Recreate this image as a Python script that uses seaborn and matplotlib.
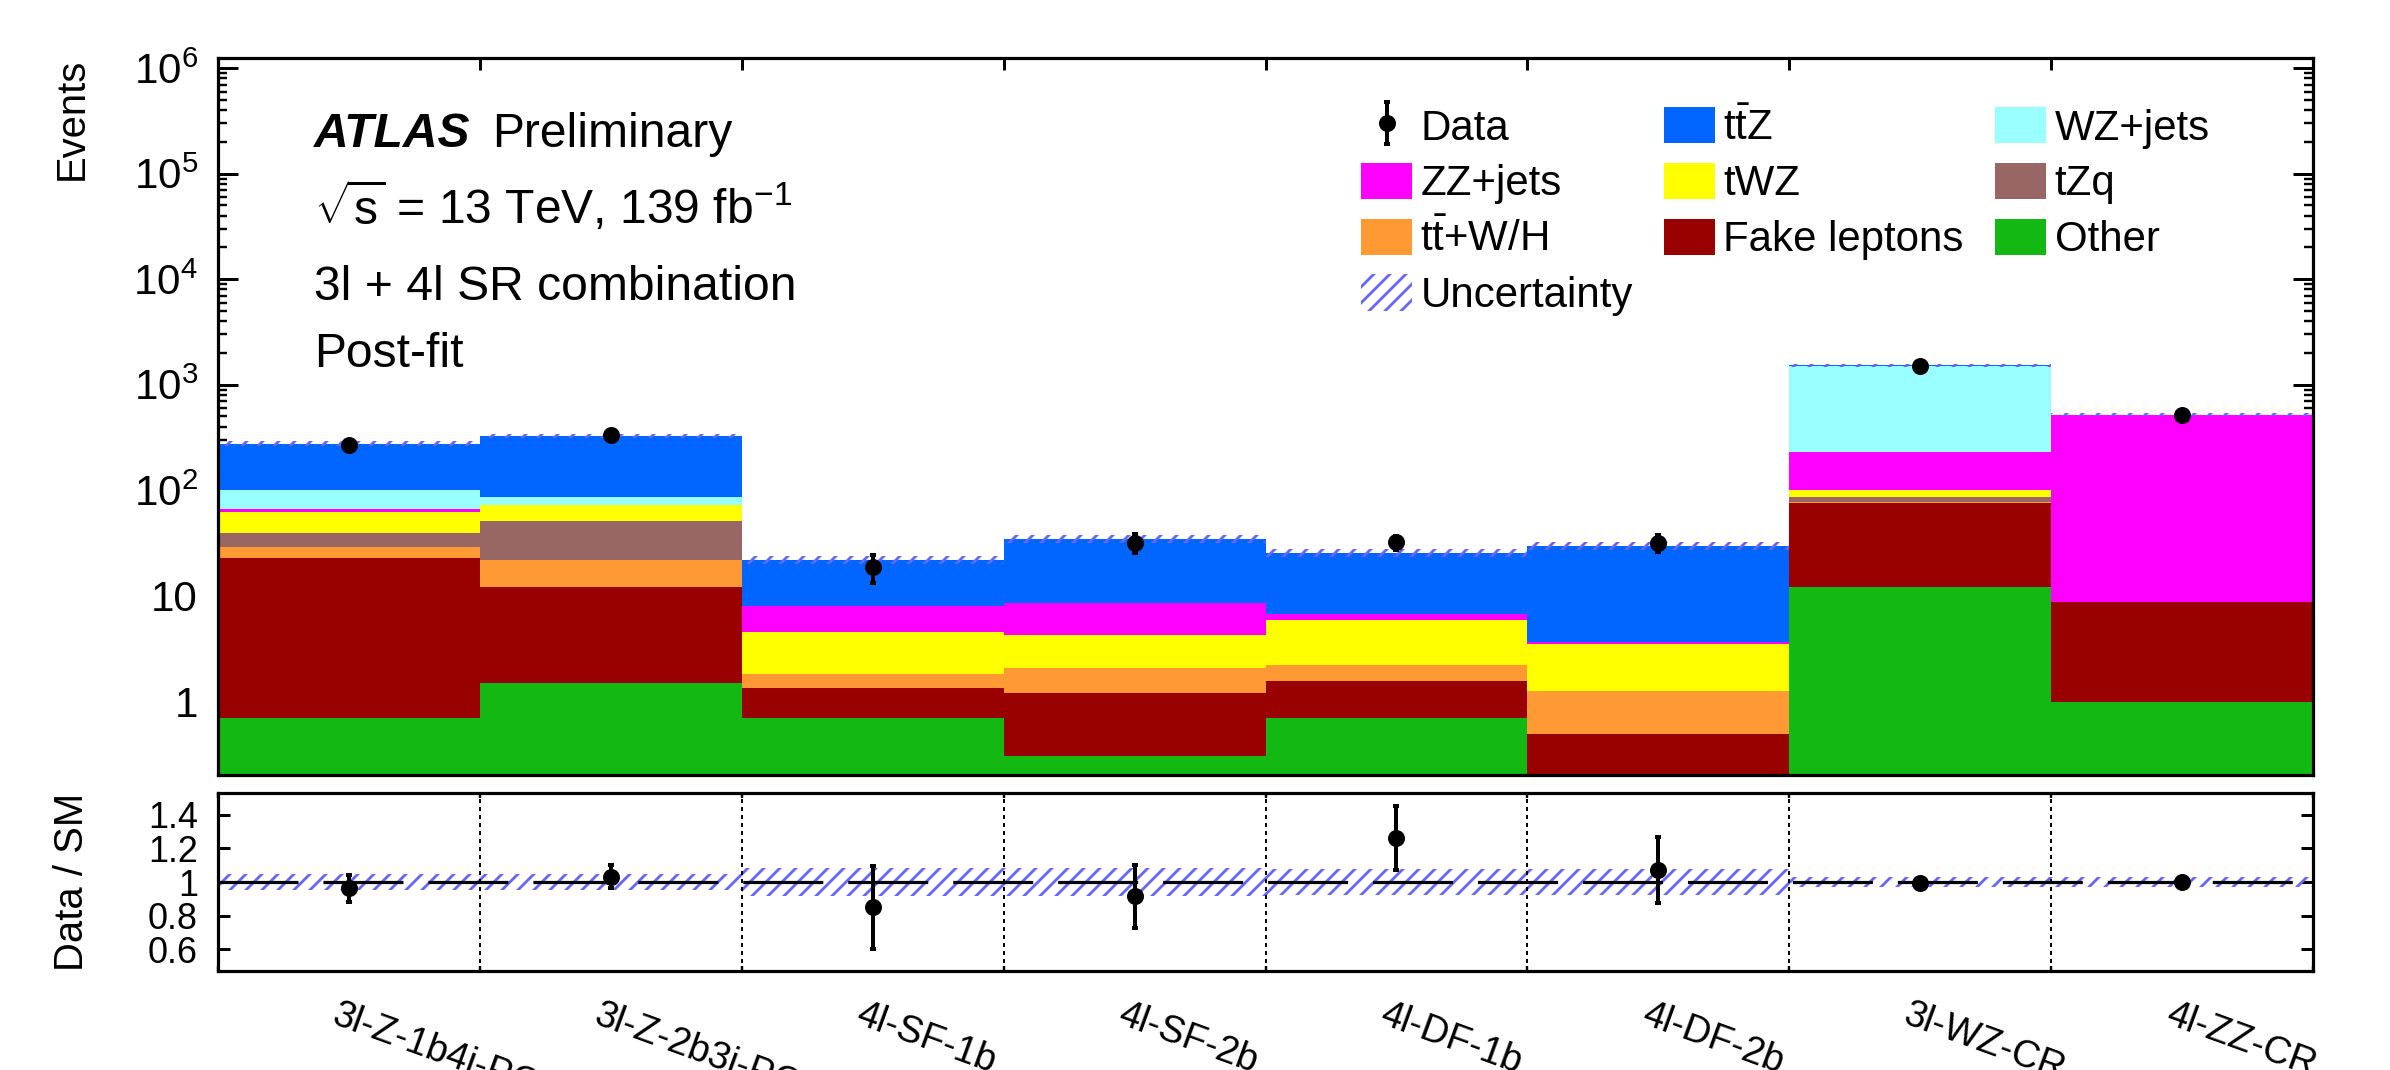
import numpy as np
import pandas as pd
import matplotlib
matplotlib.use("Agg")
import matplotlib.pyplot as plt
from matplotlib.patches import Patch
from matplotlib.ticker import LogLocator, NullFormatter
from matplotlib.transforms import ScaledTranslation
import seaborn as sns

# regions (bins)
regions = ["3l-Z-1b4j-PCBT", "3l-Z-2b3j-PCBT", "4l-SF-1b", "4l-SF-2b",
           "4l-DF-1b", "4l-DF-2b", "3l-WZ-CR", "4l-ZZ-CR"]

# post-fit yields per process
ttz = [177, 240, 14.1, 26.1, 18.8, 26.0, 5, 0]
wz = [32.8, 12.7, 0, 0, 0, 0, 1289, 0]
zz = [4.7, 1.0, 3.44, 4.38, 0.88, 0.1, 131, 513]
twz = [22.8, 21.1, 2.69, 2.18, 3.7, 2.28, 14.1, 0.1]
tzq = [10.6, 28.7, 0, 0, 0, 0, 7.7, 0]
ttwh = [6.1, 9.9, 0.47, 0.86, 0.64, 0.75, 1.6, 0]
fake = [21.9, 10.6, 0.65, 0.89, 0.86, 0.39, 64, 7.7]
other = [0.69, 1.48, 0.69, 0.30, 0.69, 0.10, 12.2, 0.985]

data = [266, 336, 18.7, 31.8, 32.3, 31.8, 1520, 522]
data_err = [22, 22, 5.4, 6.5, 4.9, 5.8, 39, 16]
sm_unc = [0.048, 0.048, 0.083, 0.083, 0.08, 0.08, 0.03, 0.03]

# top of the stack first
processes = ["ttZ", "WZ+jets", "ZZ+jets", "tWZ", "tZq", "ttW/H", "Fake leptons", "Other"]
yields = [ttz, wz, zz, twz, tzq, ttwh, fake, other]
colors = {"ttZ": "#0066ff", "WZ+jets": "#99ffff", "ZZ+jets": "#ff00ff",
          "tWZ": "#ffff00", "tZq": "#996666", "ttW/H": "#ff9933",
          "Fake leptons": "#990000", "Other": "#13b813"}
labels = {"ttZ": r"t$\bar{\mathrm{t}}$Z", "ttW/H": r"t$\bar{\mathrm{t}}$+W/H"}
unc_color = "#6666ff"

sns.set_style("ticks")
plt.rcParams["font.family"] = ["Liberation Sans", "DejaVu Sans"]
plt.rcParams["mathtext.fontset"] = "custom"
plt.rcParams["mathtext.rm"] = "Liberation Sans"
plt.rcParams["mathtext.it"] = "Liberation Sans:italic"
plt.rcParams["mathtext.bf"] = "Liberation Sans:bold"
plt.rcParams["hatch.linewidth"] = 1.4
for key in ["axes.edgecolor", "xtick.color", "ytick.color", "text.color", "axes.labelcolor"]:
    plt.rcParams[key] = "black"

edges = np.arange(len(regions) + 1)
centers = edges[:-1] + 0.5

rows = []
for proc, vals in zip(processes, yields):
    for c, v in zip(centers, vals):
        rows.append({"bin": c, "events": v, "process": proc})
df = pd.DataFrame(rows)

total = np.sum(np.array(yields), axis=0)
data = np.array(data)
data_err = np.array(data_err)
sm_unc = np.array(sm_unc)

fig = plt.figure(figsize=(2390 / 144, 1070 / 144), dpi=144)
ax = fig.add_axes([0.0912, 0.2757, 0.8766, 0.6701])
axr = fig.add_axes([0.0912, 0.0925, 0.8766, 0.1664])

sns.histplot(data=df, x="bin", weights="events", hue="process", hue_order=processes,
             palette=colors, multiple="stack", bins=[float(e) for e in edges],
             element="bars", alpha=1, linewidth=0, edgecolor="none", legend=False, ax=ax)
ax.set_yscale("log")

lo = total * (1 - sm_unc)
hi = total * (1 + sm_unc)
ax.fill_between(edges, np.append(lo, lo[-1]), np.append(hi, hi[-1]), step="post",
                facecolor="none", edgecolor=unc_color, hatch="///", linewidth=0)
data_h = ax.errorbar(centers, data, yerr=data_err, fmt="o", color="black", ms=7.5,
                     elinewidth=2, capsize=1.5, capthick=2)

ax.set_xlim(0, len(regions))
ax.set_ylim(0.2, 1.25e6)
ax.set_xlabel("")
ax.set_ylabel("Events", loc="top", fontsize=20)
ax.yaxis.set_label_coords(-0.0608, 1.0)
ax.set_yticks([1, 10, 1e2, 1e3, 1e4, 1e5, 1e6],
              ["1", "10", r"$10^{2}$", r"$10^{3}$", r"$10^{4}$", r"$10^{5}$", r"$10^{6}$"])
ax.yaxis.set_minor_locator(LogLocator(base=10, subs=np.arange(2, 10), numticks=30))
ax.yaxis.set_minor_formatter(NullFormatter())
ax.set_xticks(edges, [""] * len(edges))
ax.tick_params(axis="y", which="major", direction="in", left=True, right=True,
               length=10, width=1.5, labelsize=21, pad=10)
ax.tick_params(axis="y", which="minor", direction="in", left=True, right=True,
               length=4.5, width=1.2)
ax.tick_params(axis="x", which="major", direction="in", top=True, bottom=True,
               length=6, width=1.5)
for s in ax.spines.values():
    s.set_linewidth(1.6)

# labels
ax.text(0.0458, 0.876, "ATLAS", transform=ax.transAxes, fontsize=24,
        fontweight="bold", fontstyle="italic", va="baseline")
ax.text(0.131, 0.876, "Preliminary", transform=ax.transAxes, fontsize=24, va="baseline")
ax.text(0.0458, 0.768, r"$\sqrt{\mathrm{s}}$ = 13 TeV, 139 fb$^{-1}$",
        transform=ax.transAxes, fontsize=24, va="baseline")
ax.text(0.0458, 0.6625, "3l + 4l SR combination", transform=ax.transAxes,
        fontsize=24, va="baseline")
ax.text(0.0458, 0.569, "Post-fit", transform=ax.transAxes, fontsize=24, va="baseline")

# legend, filled column by column
patches = {p: Patch(facecolor=colors[p], edgecolor="none", label=labels.get(p, p))
           for p in processes}
unc_h = Patch(facecolor="none", edgecolor=unc_color, hatch="///", linewidth=0,
              label="Uncertainty")
handles = [data_h, patches["ZZ+jets"], patches["ttW/H"], unc_h,
           patches["ttZ"], patches["tWZ"], patches["Fake leptons"],
           patches["WZ+jets"], patches["tZq"], patches["Other"]]
names = ["Data", "ZZ+jets", labels["ttW/H"], "Uncertainty",
         labels["ttZ"], "tWZ", "Fake leptons", "WZ+jets", "tZq", "Other"]
fig.legend(handles, names, loc="upper left", bbox_to_anchor=(0.5695, 0.900),
           ncol=3, frameon=False, fontsize=21, borderpad=0, borderaxespad=0,
           handlelength=1.21, handleheight=0.95, handletextpad=0.2,
           columnspacing=0.75, labelspacing=0.34)

# ratio panel
ratio = data / total
ratio_err = data_err / total
axr.fill_between(edges, np.append(1 - sm_unc, 1 - sm_unc[-1]),
                 np.append(1 + sm_unc, 1 + sm_unc[-1]), step="post",
                 facecolor="none", edgecolor=unc_color, hatch="///", linewidth=0)
axr.axhline(1, color="black", lw=1.6, dashes=(25, 7.8))
for e in edges[1:-1]:
    axr.axvline(e, color="black", lw=1, linestyle=(0, (2, 2)))
axr.errorbar(centers, ratio, yerr=ratio_err, fmt="o", color="black", ms=7.5,
             elinewidth=2, capsize=1.5, capthick=2)
axr.set_xlim(0, len(regions))
axr.set_ylim(0.47, 1.53)
axr.set_yticks([0.6, 0.8, 1, 1.2, 1.4], ["0.6", "0.8", "1", "1.2", "1.4"])
axr.set_ylabel("Data / SM", fontsize=20)
axr.yaxis.set_label_coords(-0.0608, 0.5)
axr.set_xticks(edges, [""] * len(edges))
axr.set_xticks(centers, regions, minor=True)
axr.tick_params(axis="y", direction="in", left=True, right=True, length=6,
                width=1.5, labelsize=18, pad=10)
axr.tick_params(axis="x", which="major", direction="in", top=True, bottom=True,
                length=2.5, width=1.2)
axr.tick_params(axis="x", which="minor", length=0, labelsize=19, pad=13)
shift = ScaledTranslation(-0.06, 0, fig.dpi_scale_trans)
for lab in axr.get_xticklabels(minor=True):
    lab.set_rotation(-20)
    lab.set_ha("left")
    lab.set_va("top")
    lab.set_rotation_mode("anchor")
    lab.set_transform(lab.get_transform() + shift)
for s in axr.spines.values():
    s.set_linewidth(1.6)

fig.savefig("out.png", dpi=144)
